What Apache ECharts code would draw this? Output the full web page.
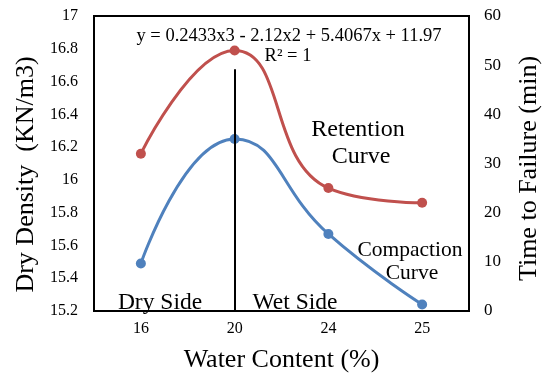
<!DOCTYPE html>
<html>
<head>
<meta charset="utf-8">
<script src="https://cdn.jsdelivr.net/npm/echarts@6/dist/echarts.min.js"></script>
<style>
  html, body { margin: 0; padding: 0; background: #fff; }
  #main { width: 550px; height: 378px; }
</style>
</head>
<body>
<div id="main"></div>
<script>
// data
var waterContent = ["16", "20", "24", "25"];
var dryDensity = [15.49, 16.25, 15.67, 15.24];    // compaction curve, left axis
var timeToFailure = [32, 53, 25, 22];             // retention curve, right axis
var dividerLine = [16.675, 15.2];                 // dry/wet side divider at 20%

var font = "Liberation Serif";

// free text labels on the plot
function label(text, x, y, size) {
  return {
    type: "text",
    x: x,
    y: y,
    style: {
      text: text,
      font: size + "px " + font,
      fill: "#000",
      align: "center",
      verticalAlign: "middle"
    }
  };
}

var chart = echarts.init(document.getElementById("main"));
var option = {
  animation: false,
  textStyle: { fontFamily: font, color: "#000" },
  grid: {
    left: 94,
    right: 75,
    top: 16,
    bottom: 64,
    show: true,
    borderColor: "#000",
    borderWidth: 2
  },
  xAxis: {
    type: "category",
    data: waterContent,
    name: "Water Content (%)",
    nameLocation: "middle",
    nameGap: 36,
    nameTextStyle: { fontFamily: font, fontSize: 26, color: "#000" },
    axisLine: { show: true, lineStyle: { color: "#000", width: 2 } },
    axisTick: { show: false },
    axisLabel: { fontFamily: font, fontSize: 16, color: "#000", margin: 10 }
  },
  yAxis: [
    {
      type: "value",
      min: 15.2,
      max: 17,
      interval: 0.2,
      name: "Dry Density  (KN/m3)",
      nameLocation: "middle",
      nameGap: 54,
      nameTextStyle: { fontFamily: font, fontSize: 26, color: "#000", padding: [0, 22, 0, 0] },
      axisLine: { show: true, lineStyle: { color: "#000", width: 2 } },
      axisTick: { show: false },
      splitLine: { show: false },
      axisLabel: {
        fontFamily: font, fontSize: 16, color: "#000", margin: 16,
        formatter: function (v) { return String(Math.round(v * 10) / 10); }
      }
    },
    {
      type: "value",
      min: 0,
      max: 60,
      interval: 10,
      name: "Time to Failure (min)",
      nameLocation: "middle",
      nameGap: 47,
      nameRotate: 90,
      nameTextStyle: { fontFamily: font, fontSize: 26, color: "#000", padding: [0, 10, 0, 0] },
      axisLine: { show: true, lineStyle: { color: "#000", width: 2 } },
      axisTick: { show: false },
      splitLine: { show: false },
      axisLabel: { fontFamily: font, fontSize: 17, color: "#000", margin: 15 }
    }
  ],
  series: [
    {
      name: "Retention Curve",
      type: "line",
      yAxisIndex: 1,
      data: timeToFailure,
      smooth: 0.5,
      symbol: "circle",
      symbolSize: 10,
      lineStyle: { color: "#C0504D", width: 3 },
      itemStyle: { color: "#C0504D" }
    },
    {
      name: "Compaction Curve",
      type: "line",
      yAxisIndex: 0,
      data: dryDensity,
      smooth: 0.5,
      symbol: "circle",
      symbolSize: 10,
      lineStyle: { color: "#4F81BD", width: 3 },
      itemStyle: { color: "#4F81BD" },
      markLine: {
        silent: true,
        symbol: "none",
        label: { show: false },
        lineStyle: { color: "#000", width: 2, type: "solid" },
        data: [[
          { xAxis: waterContent[1], yAxis: dividerLine[0] },
          { xAxis: waterContent[1], yAxis: dividerLine[1] }
        ]]
      }
    }
  ],
  graphic: [
    label("y = 0.2433x3 - 2.12x2 + 5.4067x + 11.97", 289, 36, 18.5),
    label("R² = 1", 288, 56, 18.5),
    label("Retention", 358, 130, 24),
    label("Curve", 361, 157, 24),
    label("Compaction", 410, 250, 21.5),
    label("Curve", 412, 273, 21.5),
    label("Dry Side", 160, 303, 23.5),
    label("Wet Side", 295, 303, 23.5)
  ]
};
chart.setOption(option);
</script>
</body>
</html>
